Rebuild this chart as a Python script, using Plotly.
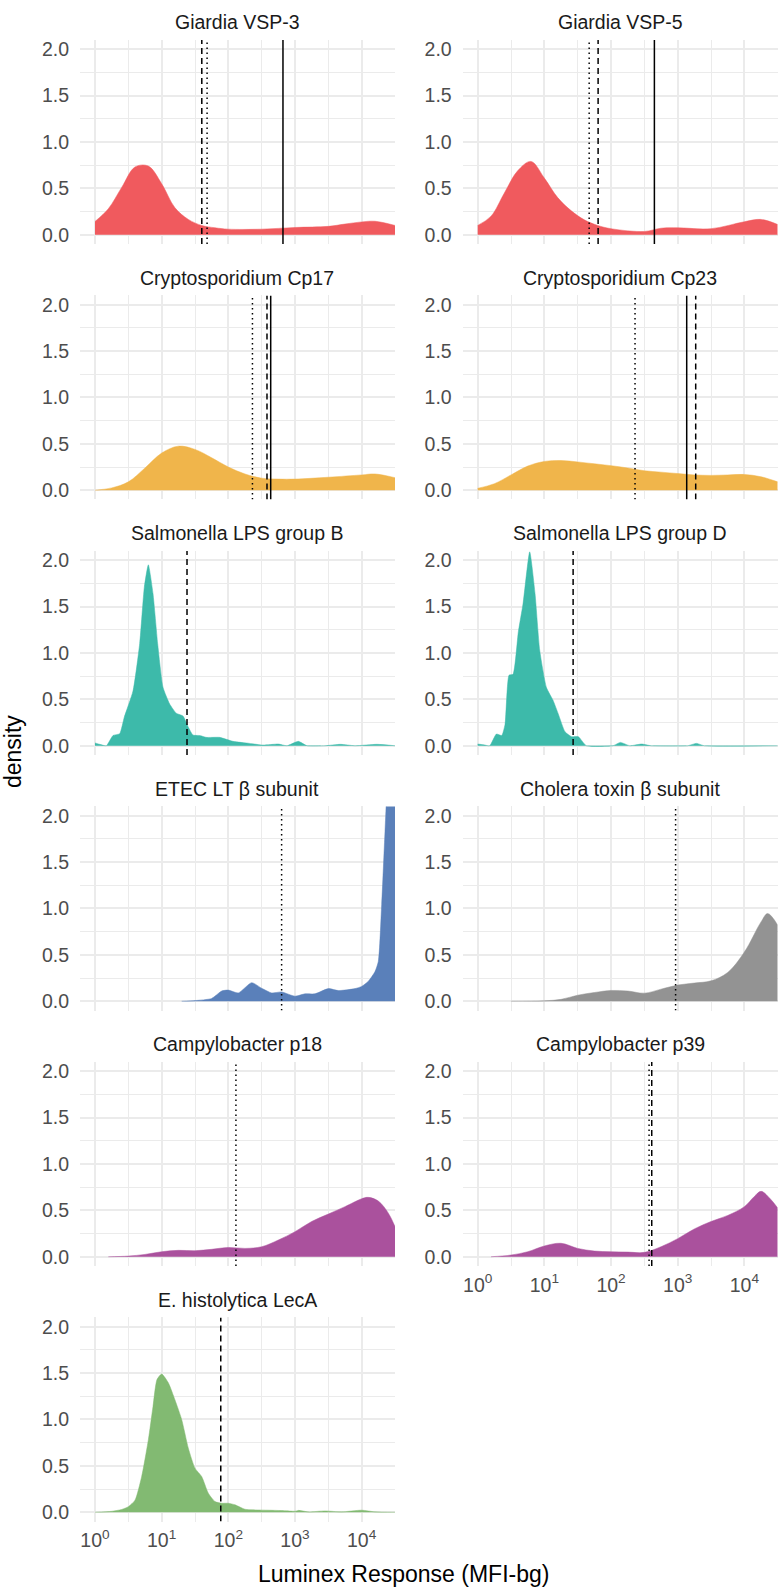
import plotly.graph_objects as go

W, H = 780, 1587

# ---- antigen panels -------------------------------------------------------
titles = [
    "Giardia VSP-3", "Giardia VSP-5",
    "Cryptosporidium Cp17", "Cryptosporidium Cp23",
    "Salmonella LPS group B", "Salmonella LPS group D",
    "ETEC LT β subunit", "Cholera toxin β subunit",
    "Campylobacter p18", "Campylobacter p39",
    "E. histolytica LecA",
]

fill_colors = [
    "#F05A5E", "#F05A5E",
    "#F0B54B", "#F0B54B",
    "#3DBAAA", "#3DBAAA",
    "#5A80BA", "#939393",
    "#AA519D", "#AA519D",
    "#82BA72",
]

# ---- kernel density curves: log10(MFI-bg) grid and density ------------------
vsp3_log10 = [0, 0.2, 0.4, 0.6, 0.8, 1.0, 1.2, 1.4, 1.6, 1.8, 2.0, 2.5, 3.0, 3.5, 3.75, 4.0, 4.2, 4.5]
vsp3_dens = [0.143, 0.28, 0.51, 0.73, 0.74, 0.55, 0.29, 0.165, 0.10, 0.075, 0.06, 0.06, 0.078, 0.09,
             0.115, 0.138, 0.145, 0.10]

vsp5_log10 = [0, 0.2, 0.4, 0.6, 0.8, 1.0, 1.2, 1.4, 1.6, 1.8, 2.0, 2.5, 2.75, 3.0, 3.5, 4.0, 4.25, 4.5]
vsp5_dens = [0.10, 0.20, 0.45, 0.69, 0.79, 0.61, 0.40, 0.26, 0.16, 0.10, 0.065, 0.035, 0.07, 0.075,
             0.065, 0.14, 0.165, 0.11]

cp17_log10 = [0, 0.25, 0.5, 0.75, 1.0, 1.25, 1.5, 1.75, 2.0, 2.25, 2.5, 2.75, 3.0, 3.5, 4.0, 4.2, 4.5]
cp17_dens = [0.0, 0.025, 0.09, 0.24, 0.40, 0.475, 0.44, 0.35, 0.25, 0.175, 0.13, 0.12, 0.12, 0.14, 0.165, 0.175, 0.135]

cp23_log10 = [0, 0.25, 0.5, 0.75, 1.0, 1.25, 1.5, 1.75, 2.0, 2.25, 2.5, 2.75, 3.0, 3.25, 3.5, 3.75, 4.0, 4.25, 4.5]
cp23_dens = [0.02, 0.07, 0.165, 0.26, 0.31, 0.32, 0.305, 0.285, 0.265, 0.24, 0.21, 0.195, 0.18, 0.165, 0.16, 0.165, 0.17, 0.145, 0.09]

salb_log10 = [0, 0.07, 0.17, 0.27, 0.37, 0.44, 0.57, 0.67, 0.74, 0.80, 0.87, 0.94, 1.02, 1.12, 1.22,
              1.32, 1.40, 1.47, 1.57, 1.67, 1.87, 2.07, 2.32, 2.52, 2.75, 2.88, 3.05, 3.18, 3.45,
              3.68, 3.9, 4.23, 4.5]
salb_dens = [0.03, 0.015, 0.0, 0.11, 0.13, 0.31, 0.59, 1.10, 1.71, 1.95, 1.64, 1.10, 0.63, 0.45, 0.35,
             0.32, 0.20, 0.115, 0.11, 0.09, 0.09, 0.047, 0.025, 0.007, 0.018, 0.0, 0.047, 0.0, 0.0,
             0.015, 0.0, 0.015, 0.0]

sald_log10 = [0, 0.09, 0.18, 0.28, 0.36, 0.41, 0.47, 0.53, 0.61, 0.68, 0.78, 0.86, 0.93, 1.03, 1.13,
              1.21, 1.31, 1.41, 1.51, 1.63, 2.03, 2.14, 2.28, 2.46, 2.6, 3.15, 3.28, 3.4, 4.5]
sald_dens = [0.018, 0.01, 0.0, 0.126, 0.11, 0.23, 0.76, 0.77, 1.23, 1.53, 2.09, 1.64, 1.03, 0.63, 0.49,
             0.34, 0.15, 0.097, 0.097, 0.0, 0.0, 0.036, 0.0, 0.018, 0.0, 0.0, 0.025, 0.0, 0.0]

etec_log10 = [1.3, 1.5, 1.75, 1.9, 2.0, 2.15, 2.35, 2.5, 2.65, 2.8, 3.0, 3.15, 3.3, 3.5, 3.65, 3.9, 4.0,
              4.1, 4.2, 4.25, 4.3, 4.35, 4.4, 4.5]
etec_dens = [0.0, 0.007, 0.03, 0.11, 0.12, 0.09, 0.20, 0.14, 0.09, 0.10, 0.054, 0.08, 0.08, 0.136, 0.115,
             0.136, 0.16, 0.215, 0.32, 0.43, 1.04, 1.83, 2.6, 3.5]

ctb_log10 = [0.5, 1.0, 1.25, 1.5, 1.75, 2.0, 2.25, 2.5, 2.75, 3.0, 3.25, 3.5, 3.75, 4.0, 4.25, 4.35, 4.5]
ctb_dens = [0.0, 0.005, 0.02, 0.065, 0.094, 0.116, 0.11, 0.087, 0.13, 0.174, 0.196, 0.22, 0.31, 0.53,
            0.855, 0.945, 0.82]

p18_log10 = [0.2, 0.5, 0.75, 1.0, 1.25, 1.5, 1.75, 2.0, 2.25, 2.5, 2.75, 3.0, 3.25, 3.5, 3.75, 4.0,
             4.1, 4.25, 4.4, 4.5]
p18_dens = [0.0, 0.007, 0.025, 0.054, 0.069, 0.065, 0.08, 0.10, 0.09, 0.108, 0.18, 0.27, 0.38, 0.46,
            0.54, 0.625, 0.64, 0.60, 0.47, 0.325]

p39_log10 = [0.2, 0.5, 0.75, 1.0, 1.25, 1.5, 1.75, 2.0, 2.25, 2.5, 2.75, 3.0, 3.25, 3.5, 3.75, 4.0,
             4.15, 4.25, 4.4, 4.5]
p39_dens = [0.0, 0.018, 0.054, 0.116, 0.145, 0.09, 0.061, 0.054, 0.05, 0.047, 0.108, 0.195, 0.30, 0.38,
            0.445, 0.54, 0.65, 0.705, 0.615, 0.525]

leca_log10 = [0, 0.25, 0.4, 0.5, 0.6, 0.7, 0.8, 0.87, 0.93, 1.0, 1.1, 1.2, 1.3, 1.4, 1.5, 1.6, 1.7,
              1.8, 1.9, 2.0, 2.1, 2.25, 2.4, 2.6, 2.8, 3.0, 3.05, 3.2, 3.45, 3.7, 4.0, 4.2, 4.5]
leca_dens = [0.0, 0.01, 0.03, 0.06, 0.13, 0.385, 0.78, 1.14, 1.43, 1.49, 1.395, 1.21, 1.0, 0.69, 0.475,
             0.385, 0.205, 0.115, 0.097, 0.097, 0.08, 0.032, 0.025, 0.022, 0.018, 0.011, 0.02, 0.004,
             0.014, 0.004, 0.022, 0.004, 0.0]

curves = [
    (vsp3_log10, vsp3_dens), (vsp5_log10, vsp5_dens),
    (cp17_log10, cp17_dens), (cp23_log10, cp23_dens),
    (salb_log10, salb_dens), (sald_log10, sald_dens),
    (etec_log10, etec_dens), (ctb_log10, ctb_dens),
    (p18_log10, p18_dens), (p39_log10, p39_dens),
    (leca_log10, leca_dens),
]
smoothing = [1.0, 1.0, 1.0, 1.0, 0.5, 0.5, 0.6, 1.0, 1.0, 1.0, 0.6]

# ---- seropositivity cutoffs (MFI-bg) by method ------------------------------
cutoff_solid = [660, 447, 432, 1365, None, None, None, None, None, None, None]
cutoff_dashed = [40, 64, 380, 1862, 24, 27, None, None, None, 408, 77]
cutoff_dotted = [48, 47, 230, 229, None, None, 630, 930, 130, 372, None]

# ---- axes -------------------------------------------------------------------
x_major = [1, 10, 100, 1000, 10000]
x_major_text = ["10<sup>0</sup>", "10<sup>1</sup>", "10<sup>2</sup>", "10<sup>3</sup>", "10<sup>4</sup>"]
x_minor = [10 ** 0.5, 10 ** 1.5, 10 ** 2.5, 10 ** 3.5, 10 ** 4.5]
y_major = [0, 0.5, 1.0, 1.5, 2.0]
y_minor = [0.25, 0.75, 1.25, 1.75]
X_RANGE = [-0.225, 4.5]
Y_RANGE = [-0.1, 2.1]

FONT = "Liberation Sans, Arial, Helvetica, sans-serif"
GRID = "#EBEBEB"

# panel geometry in pixels
COL_LEFT = [80.0, 462.7]
PANEL_W = 315.0
ROW_TOP0 = 38.0
ROW_PITCH = 256.15
PANEL_H = 204.6

fig = go.Figure()
layout = dict(
    width=W, height=H,
    margin=dict(l=0, r=0, t=0, b=0, pad=0),
    paper_bgcolor="white", plot_bgcolor="white",
    showlegend=False,
    font=dict(family=FONT),
)
annotations = []

dash_styles = [("solid", cutoff_solid), ("6px,4px", cutoff_dashed), ("1.5px,3.5px", cutoff_dotted)]
bottom_panels = {9, 10}

for i, title in enumerate(titles):
    row, col = divmod(i, 2)
    suffix = "" if i == 0 else str(i + 1)
    xa, ya = "x" + suffix, "y" + suffix

    x0 = COL_LEFT[col]
    top = ROW_TOP0 + ROW_PITCH * row
    bottom = top + PANEL_H
    xdom = [x0 / W, (x0 + PANEL_W) / W]
    ydom = [1 - bottom / H, 1 - top / H]

    lx, dens = curves[i]
    fig.add_trace(go.Scatter(
        x=[10 ** v for v in lx], y=dens, xaxis=xa, yaxis=ya,
        mode="lines", fill="tozeroy", fillcolor=fill_colors[i],
        line=dict(color=fill_colors[i], width=0.5, shape="spline", smoothing=smoothing[i]),
        hoverinfo="skip",
    ))

    for dash, values in dash_styles:
        v = values[i]
        if v is None:
            continue
        fig.add_trace(go.Scatter(
            x=[v, v], y=Y_RANGE, xaxis=xa, yaxis=ya, mode="lines",
            line=dict(color="black", width=1.5, dash=dash), hoverinfo="skip",
        ))

    layout["xaxis" + suffix] = dict(
        type="log", range=X_RANGE, domain=xdom, anchor=ya,
        tickmode="array", tickvals=x_major, ticktext=x_major_text,
        showticklabels=i in bottom_panels, ticks="", ticklabelstandoff=5,
        tickfont=dict(size=19.5, color="#4D4D4D", family=FONT),
        showgrid=True, gridcolor=GRID, gridwidth=2.2,
        minor=dict(tickmode="array", tickvals=x_minor, showgrid=True, gridcolor=GRID, gridwidth=1.1),
        zeroline=False, showline=False, fixedrange=True,
    )
    layout["yaxis" + suffix] = dict(
        range=Y_RANGE, domain=ydom, anchor=xa,
        tickmode="array", tickvals=y_major, ticktext=[f"{v:.1f}" for v in y_major],
        ticks="", ticklabelstandoff=10,
        tickfont=dict(size=19.5, color="#4D4D4D", family=FONT),
        showgrid=True, gridcolor=GRID, gridwidth=2.2,
        minor=dict(tickmode="array", tickvals=y_minor, showgrid=True, gridcolor=GRID, gridwidth=1.1),
        zeroline=False, showline=False, fixedrange=True,
    )

    annotations.append(dict(
        text=title, xref="paper", yref="paper",
        x=(x0 + PANEL_W / 2) / W, y=1 - (top - 17.5) / H,
        xanchor="center", yanchor="middle", showarrow=False,
        font=dict(size=19.5, color="#1A1A1A", family=FONT),
    ))

annotations.append(dict(
    text="density", xref="paper", yref="paper", x=13 / W, y=1 - 752 / H,
    xanchor="center", yanchor="middle", textangle=-90, showarrow=False,
    font=dict(size=23, color="black", family=FONT),
))
annotations.append(dict(
    text="Luminex Response (MFI-bg)", xref="paper", yref="paper", x=403 / W, y=1 - 1576 / H,
    xanchor="center", yanchor="middle", showarrow=False,
    font=dict(size=23, color="black", family=FONT),
))

layout["annotations"] = annotations
fig.update_layout(**layout)
fig.write_html("out.html")
